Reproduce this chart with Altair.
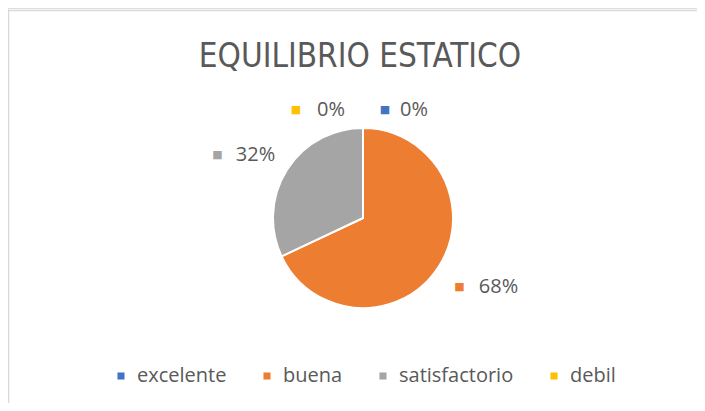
import altair as alt
import pandas as pd

categories = ["excelente", "buena", "satisfactorio", "debil"]
values = [0, 68, 32, 0]
labels = ["0%", "68%", "32%", "0%"]
colors = ["#4472C4", "#ED7D31", "#A5A5A5", "#FFC000"]
title_text = "EQUILIBRIO ESTATICO"

df = pd.DataFrame({
    "category": categories,
    "value": values,
    "label": labels,
    "order": list(range(len(categories))),
})

TEXT = "#595959"
FONT = "Open Sans"
W, H = 689, 395
CX, CY = 355, 210

color = alt.Color(
    "category:N",
    scale=alt.Scale(domain=categories, range=colors),
    legend=alt.Legend(
        title=None, orient="none", direction="horizontal",
        legendX=103, legendY=358, padding=0,
        symbolType="square", symbolSize=50, symbolStrokeWidth=0,
        labelFont=FONT, labelFontSize=20, labelColor=TEXT,
        columnPadding=30, symbolOffset=0, labelOffset=6,
    ),
)

base = alt.Chart(df).transform_stack(
    stack="value", groupby=[], as_=["v0", "v1"], sort=[alt.SortField("order")]
).transform_calculate(mid="(datum.v0 + datum.v1) / 2")

theta_scale = alt.Scale(domain=[0, 100])

pie = base.mark_arc(outerRadius=90, stroke="white", strokeWidth=2).encode(
    theta=alt.Theta("v0:Q", scale=theta_scale),
    theta2="v1:Q",
    color=color,
    order=alt.Order("order:Q"),
    x=alt.value(CX),
    y=alt.value(CY),
)


def label_layer(cat, radius, marker_dx, text_dx, dy):
    sub = base.transform_filter(f"datum.category == '{cat}'")
    marker = sub.mark_text(dx=marker_dx, dy=dy, fontSize=11, font="DejaVu Sans",
                           baseline="middle").encode(
        theta=alt.Theta("mid:Q", scale=theta_scale),
        radius=alt.value(radius),
        x=alt.value(CX), y=alt.value(CY),
        text=alt.value("■"),
        color=alt.Color("category:N", scale=alt.Scale(domain=categories, range=colors), legend=None),
    )
    txt = sub.mark_text(dx=text_dx, dy=dy, fontSize=20, font=FONT, color=TEXT,
                        baseline="middle").encode(
        theta=alt.Theta("mid:Q", scale=theta_scale),
        radius=alt.value(radius),
        x=alt.value(CX), y=alt.value(CY),
        text="label:N",
    )
    return [marker, txt]


layers = [pie]
layers += label_layer("buena", 138, -20, 19, -5)
layers += label_layer("satisfactorio", 138, -29, 9, 11)
layers += label_layer("excelente", 108, 22, 51, 0)
layers += label_layer("debil", 108, -67, -32, 0)

frame = pd.DataFrame({"t": [title_text]})
title = alt.Chart(frame).mark_text(
    font="Liberation Sans Narrow, DejaVu Sans Condensed, Open Sans",
    fontSize=33, color=TEXT, baseline="alphabetic", align="center",
).encode(x=alt.value(352), y=alt.value(59), text="t:N")

border_top = alt.Chart(frame).mark_rule(color="#d9d9d9", strokeWidth=1.5).encode(
    x=alt.value(0.5), x2=alt.value(697), y=alt.value(2.5)
)
border_left = alt.Chart(frame).mark_rule(color="#d9d9d9", strokeWidth=1.5).encode(
    x=alt.value(0.5), y=alt.value(2.5), y2=alt.value(H)
)
layers += [title, border_top, border_left]

chart = alt.layer(*layers).properties(
    width=W, height=H,
    autosize=alt.AutoSizeParams(type="none"),
    padding=0,
).configure_view(stroke=None).configure(background="white")

chart.save("out.html", embed_options={"renderer": "svg", "actions": False})
